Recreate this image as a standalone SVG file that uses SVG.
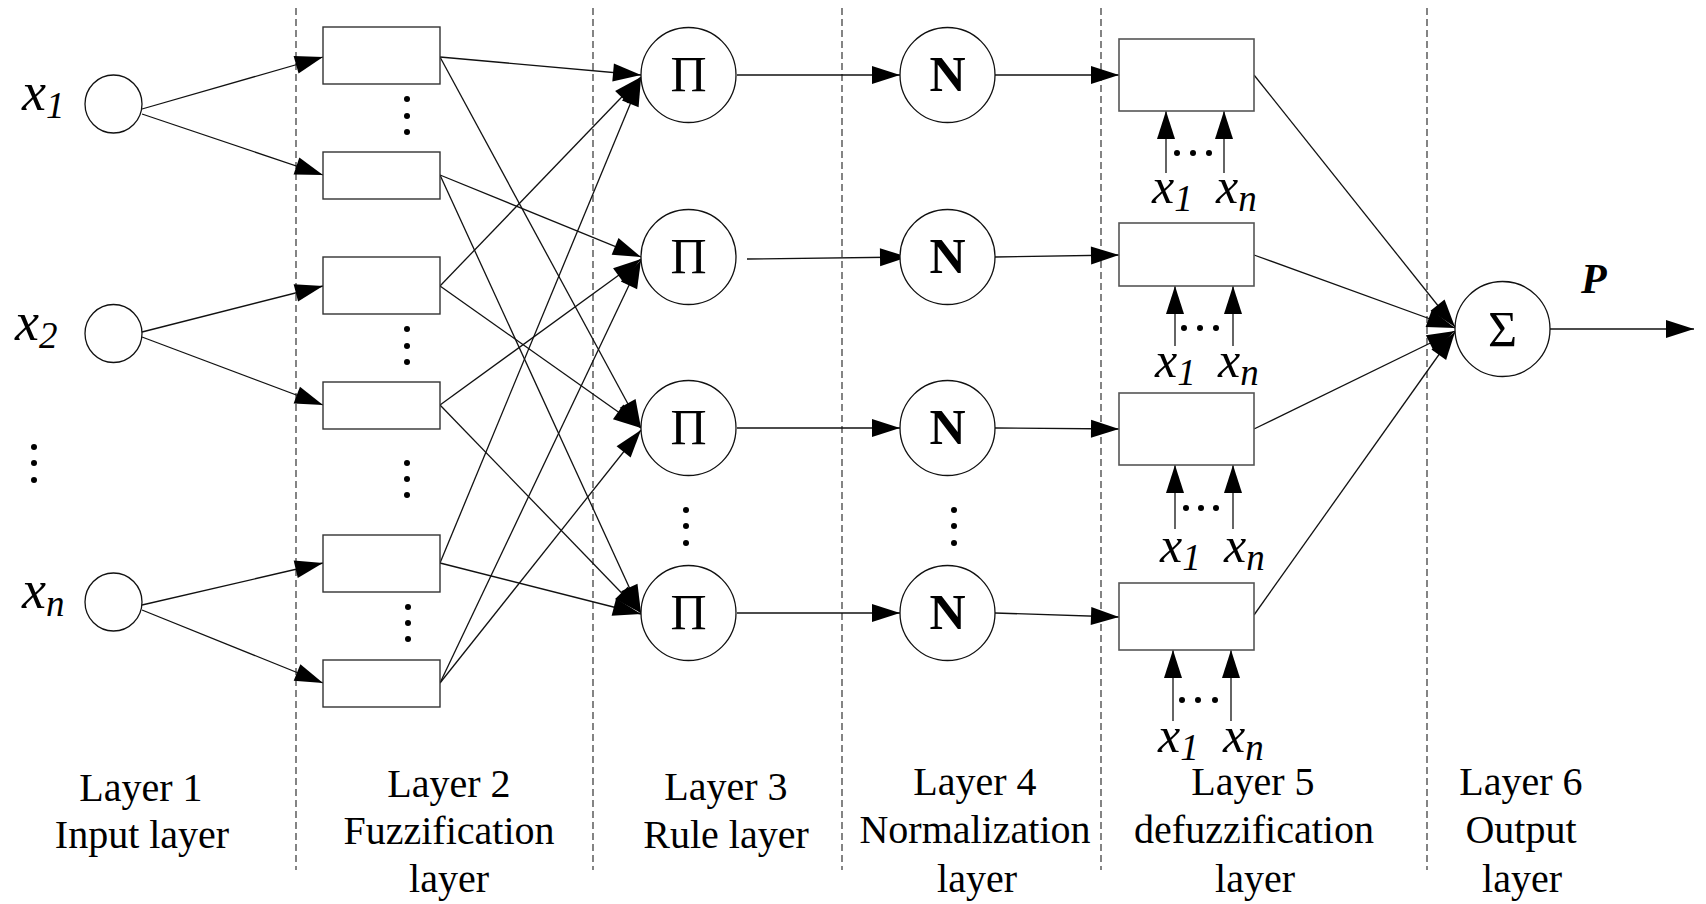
<svg xmlns="http://www.w3.org/2000/svg" width="1706" height="904" viewBox="0 0 1706 904">
<defs>
<style>
.dash{stroke:#333;stroke-width:1.2;stroke-dasharray:7,4;fill:none}
.box{fill:#fff;stroke:#333;stroke-width:1.4}
.box5{fill:#fff;stroke:#555;stroke-width:1.6}
.node{fill:#fff;stroke:#111;stroke-width:1.3}
.ln{stroke:#111;stroke-width:1.3;fill:none}
.arr{stroke:#111;stroke-width:1.3;fill:none;marker-end:url(#ah)}
.lbl{font-family:'Liberation Serif','Times New Roman',serif;font-size:40px;text-anchor:middle;fill:#000}
.var{font-family:'Liberation Serif','Times New Roman',serif;font-style:italic;font-size:54px;fill:#000}
.var2{font-family:'Liberation Serif','Times New Roman',serif;font-style:italic;font-size:50px;fill:#000}
.sub{font-size:37px}
.sym{font-family:'Liberation Serif','Times New Roman',serif;font-size:50px;text-anchor:middle;fill:#000}
.bold{font-weight:bold}
.dot{fill:#000}
</style>
<marker id="ah" markerUnits="userSpaceOnUse" markerWidth="30" markerHeight="20" refX="28" refY="9" orient="auto" overflow="visible">
<path d="M0,0 L28,9 L0,18 z" fill="#000"/>
</marker>
</defs>
<rect width="1706" height="904" fill="#fff"/>

<g id="separators">
<line class="dash" x1="296" y1="8" x2="296" y2="870"/>
<line class="dash" x1="593" y1="8" x2="593" y2="870"/>
<line class="dash" x1="842" y1="8" x2="842" y2="870"/>
<line class="dash" x1="1101" y1="8" x2="1101" y2="870"/>
<line class="dash" x1="1427" y1="8" x2="1427" y2="870"/>
</g>

<g id="connectors">
<!-- layer 1 to layer 2 -->
<line class="arr" x1="142" y1="109" x2="323" y2="57"/>
<line class="arr" x1="142" y1="114" x2="323" y2="175"/>
<line class="arr" x1="142" y1="332" x2="323" y2="286"/>
<line class="arr" x1="142" y1="337" x2="323" y2="405"/>
<line class="arr" x1="142" y1="605" x2="323" y2="563"/>
<line class="arr" x1="142" y1="610" x2="323" y2="683"/>
<!-- layer 2 to layer 3 -->
<line class="arr" x1="440" y1="57" x2="641" y2="75"/>
<line class="arr" x1="440" y1="57" x2="641" y2="428"/>
<line class="arr" x1="440" y1="175" x2="641" y2="257"/>
<line class="arr" x1="440" y1="175" x2="641" y2="613"/>
<line class="arr" x1="440" y1="286" x2="641" y2="77"/>
<line class="arr" x1="440" y1="286" x2="641" y2="428"/>
<line class="arr" x1="440" y1="405" x2="641" y2="259"/>
<line class="arr" x1="440" y1="405" x2="641" y2="613"/>
<line class="arr" x1="440" y1="563" x2="641" y2="78"/>
<line class="arr" x1="440" y1="563" x2="641" y2="614"/>
<line class="arr" x1="440" y1="683" x2="641" y2="260"/>
<line class="arr" x1="440" y1="683" x2="641" y2="430"/>
<!-- layer 3 to layer 4 -->
<line class="arr" x1="737" y1="75" x2="900" y2="75"/>
<line class="arr" x1="747" y1="259" x2="908" y2="257"/>
<line class="arr" x1="737" y1="428" x2="900" y2="428"/>
<line class="arr" x1="737" y1="613" x2="900" y2="613"/>
<!-- layer 4 to layer 5 -->
<line class="arr" x1="995" y1="75" x2="1119" y2="75"/>
<line class="arr" x1="995" y1="257" x2="1119" y2="255"/>
<line class="arr" x1="995" y1="428" x2="1119" y2="429"/>
<line class="arr" x1="995" y1="613" x2="1119" y2="617"/>
<!-- inputs into layer 5 -->
<line class="arr" x1="1166" y1="173" x2="1166" y2="111"/>
<line class="arr" x1="1224" y1="173" x2="1224" y2="111"/>
<line class="arr" x1="1175" y1="346" x2="1175" y2="286"/>
<line class="arr" x1="1233" y1="346" x2="1233" y2="286"/>
<line class="arr" x1="1175" y1="529" x2="1175" y2="465"/>
<line class="arr" x1="1233" y1="529" x2="1233" y2="465"/>
<line class="arr" x1="1173" y1="721" x2="1173" y2="650"/>
<line class="arr" x1="1231" y1="721" x2="1231" y2="650"/>
<!-- layer 5 to sum -->
<line class="arr" x1="1254" y1="75" x2="1455" y2="327"/>
<line class="arr" x1="1254" y1="255" x2="1455" y2="328"/>
<line class="arr" x1="1254" y1="429" x2="1455" y2="331"/>
<line class="arr" x1="1254" y1="615" x2="1455" y2="332"/>
<!-- output -->
<line class="arr" x1="1550" y1="329" x2="1694" y2="329"/>
</g>

<g id="x1"><ellipse class="node" cx="113.5" cy="104" rx="28.5" ry="29"/></g>
<g id="x2"><ellipse class="node" cx="113.5" cy="333.5" rx="28.5" ry="29"/></g>
<g id="xn"><ellipse class="node" cx="113.5" cy="602" rx="28.5" ry="29"/></g>
<g id="input-labels">
<text class="var" x="22" y="110">x<tspan class="sub" dy="8">1</tspan></text>
<text class="var" x="15" y="340">x<tspan class="sub" dy="8">2</tspan></text>
<text class="var" x="22" y="608">x<tspan class="sub" dy="8">n</tspan></text>
<circle class="dot" cx="34" cy="447" r="3"/><circle class="dot" cx="34" cy="463" r="3"/><circle class="dot" cx="34" cy="480" r="3"/>
</g>

<g id="mf1"><rect class="box" x="323" y="27" width="117" height="57"/></g>
<g id="mf2"><rect class="box" x="323" y="152" width="117" height="47"/></g>
<g id="mf3"><rect class="box" x="323" y="257" width="117" height="57"/></g>
<g id="mf4"><rect class="box" x="323" y="382" width="117" height="47"/></g>
<g id="mf5"><rect class="box" x="323" y="535" width="117" height="57"/></g>
<g id="mf6"><rect class="box" x="323" y="660" width="117" height="47"/></g>
<g id="mf-dots">
<circle class="dot" cx="407" cy="99" r="3"/><circle class="dot" cx="407" cy="116" r="3"/><circle class="dot" cx="407" cy="132" r="3"/>
<circle class="dot" cx="407" cy="329" r="3"/><circle class="dot" cx="407" cy="346" r="3"/><circle class="dot" cx="407" cy="362" r="3"/>
<circle class="dot" cx="407" cy="463" r="3"/><circle class="dot" cx="407" cy="479" r="3"/><circle class="dot" cx="407" cy="495" r="3"/>
<circle class="dot" cx="408" cy="607" r="3"/><circle class="dot" cx="408" cy="623" r="3"/><circle class="dot" cx="408" cy="639" r="3"/>
</g>

<g id="rule1"><circle class="node" cx="688.5" cy="75" r="47.5"/><text class="sym" x="688.5" y="91">Π</text></g>
<g id="rule2"><circle class="node" cx="688.5" cy="257" r="47.5"/><text class="sym" x="688.5" y="273">Π</text></g>
<g id="rule3"><circle class="node" cx="688.5" cy="428" r="47.5"/><text class="sym" x="688.5" y="444">Π</text></g>
<g id="rule4"><circle class="node" cx="688.5" cy="613" r="47.5"/><text class="sym" x="688.5" y="629">Π</text></g>
<g id="rule-dots"><circle class="dot" cx="686" cy="510" r="3"/><circle class="dot" cx="686" cy="526" r="3"/><circle class="dot" cx="686" cy="543" r="3"/></g>

<g id="norm1"><circle class="node" cx="947.5" cy="75" r="47.5"/><text class="sym bold" x="947.5" y="91">N</text></g>
<g id="norm2"><circle class="node" cx="947.5" cy="257" r="47.5"/><text class="sym bold" x="947.5" y="273">N</text></g>
<g id="norm3"><circle class="node" cx="947.5" cy="428" r="47.5"/><text class="sym bold" x="947.5" y="444">N</text></g>
<g id="norm4"><circle class="node" cx="947.5" cy="613" r="47.5"/><text class="sym bold" x="947.5" y="629">N</text></g>
<g id="norm-dots"><circle class="dot" cx="954" cy="510" r="3"/><circle class="dot" cx="954" cy="526" r="3"/><circle class="dot" cx="954" cy="543" r="3"/></g>

<g id="defuzz1"><rect class="box5" x="1119" y="39" width="135" height="72"/></g>
<g id="defuzz2"><rect class="box5" x="1119" y="223" width="135" height="63"/></g>
<g id="defuzz3"><rect class="box5" x="1119" y="393" width="135" height="72"/></g>
<g id="defuzz4"><rect class="box5" x="1119" y="583" width="135" height="67"/></g>
<g id="defuzz-inputs">
<circle class="dot" cx="1177" cy="153" r="3"/><circle class="dot" cx="1193" cy="153" r="3"/><circle class="dot" cx="1209" cy="153" r="3"/>
<text class="var2" x="1152" y="203">x<tspan class="sub" dy="8">1</tspan></text>
<text class="var2" x="1216" y="203">x<tspan class="sub" dy="8">n</tspan></text>
<circle class="dot" cx="1184" cy="328" r="3"/><circle class="dot" cx="1200" cy="328" r="3"/><circle class="dot" cx="1216" cy="328" r="3"/>
<text class="var2" x="1155" y="377">x<tspan class="sub" dy="8">1</tspan></text>
<text class="var2" x="1218" y="377">x<tspan class="sub" dy="8">n</tspan></text>
<circle class="dot" cx="1186" cy="508" r="3"/><circle class="dot" cx="1201" cy="508" r="3"/><circle class="dot" cx="1216" cy="508" r="3"/>
<text class="var2" x="1160" y="562">x<tspan class="sub" dy="8">1</tspan></text>
<text class="var2" x="1224" y="562">x<tspan class="sub" dy="8">n</tspan></text>
<circle class="dot" cx="1182" cy="700" r="3"/><circle class="dot" cx="1198" cy="700" r="3"/><circle class="dot" cx="1215" cy="700" r="3"/>
<text class="var2" x="1158" y="752">x<tspan class="sub" dy="8">1</tspan></text>
<text class="var2" x="1223" y="752">x<tspan class="sub" dy="8">n</tspan></text>
</g>

<g id="sum"><circle class="node" cx="1502.5" cy="329" r="47.5"/><text class="sym" x="1502.5" y="346">Σ</text></g>
<g id="output-label"><text x="1581" y="293" style="font-family:'Liberation Serif','Times New Roman',serif;font-size:42px;font-weight:bold;font-style:italic">P</text></g>

<g id="layer-labels">
<text class="lbl" x="141" y="801">Layer 1</text>
<text class="lbl" x="142" y="848">Input layer</text>
<text class="lbl" x="449" y="797">Layer 2</text>
<text class="lbl" x="449" y="844">Fuzzification</text>
<text class="lbl" x="449" y="892">layer</text>
<text class="lbl" x="726" y="800">Layer 3</text>
<text class="lbl" x="726" y="848">Rule layer</text>
<text class="lbl" x="975" y="795">Layer 4</text>
<text class="lbl" x="975" y="843">Normalization</text>
<text class="lbl" x="977" y="892">layer</text>
<text class="lbl" x="1253" y="795">Layer 5</text>
<text class="lbl" x="1254" y="843">defuzzification</text>
<text class="lbl" x="1255" y="892">layer</text>
<text class="lbl" x="1521" y="795">Layer 6</text>
<text class="lbl" x="1521" y="843">Output</text>
<text class="lbl" x="1522" y="892">layer</text>
</g>
</svg>
